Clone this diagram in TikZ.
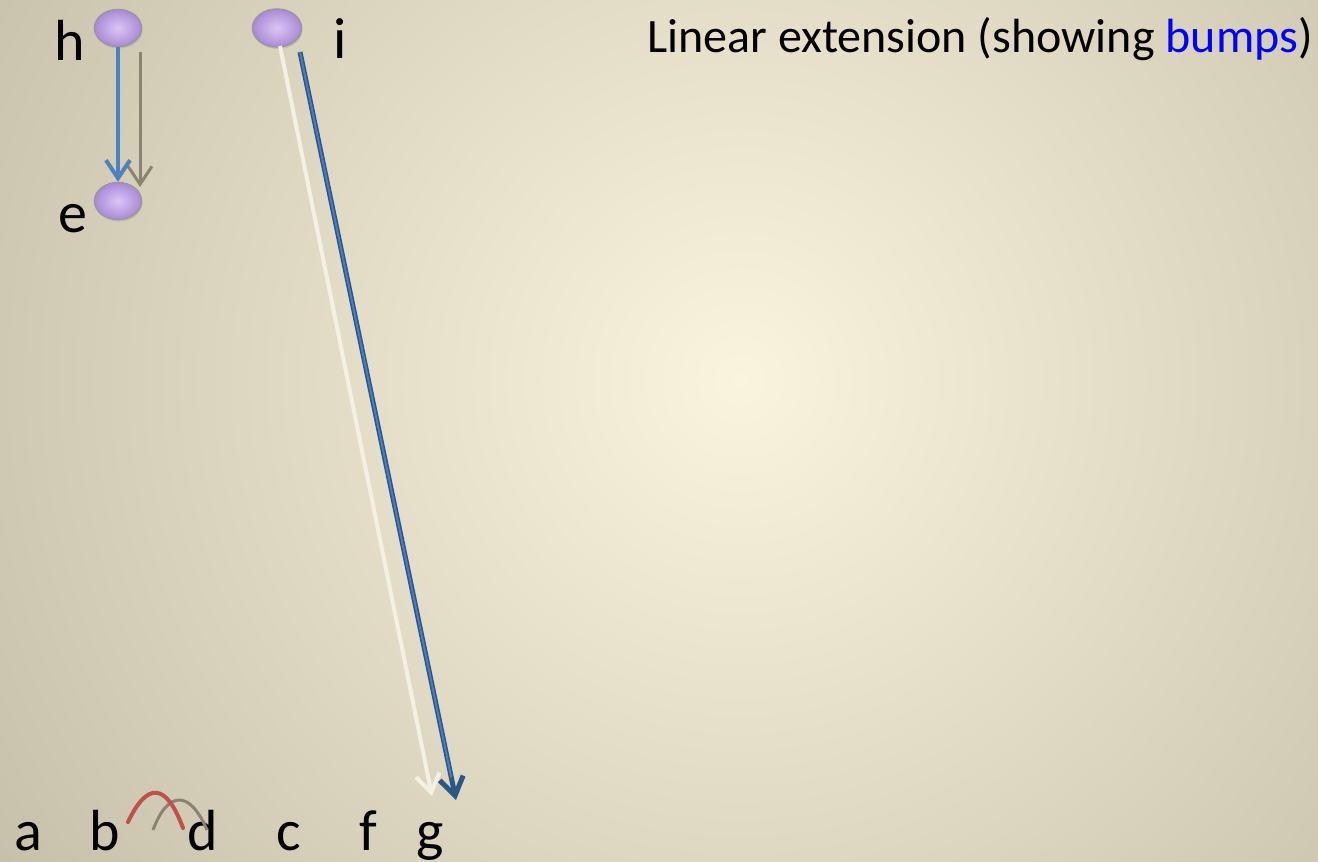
\documentclass[tikz,border=0pt]{standalone}
\usepackage{fontspec}
\setmainfont{Carlito}
\usetikzlibrary{arrows.meta,shapes.geometric,shadows,calc}
\definecolor{bgin}{HTML}{FAF3DE}
\definecolor{bgout}{HTML}{A39D88}
\definecolor{vin}{HTML}{DCC6F4}
\definecolor{vout}{HTML}{A98AD6}
\definecolor{vdraw}{HTML}{9C94A6}
\definecolor{eblue}{HTML}{4F81BD}
\definecolor{egrey}{HTML}{8A8372}
\definecolor{ewhite}{HTML}{F3F0E4}
\definecolor{edark}{HTML}{2D5688}
\definecolor{edarkin}{HTML}{4A7CC0}
\definecolor{ered}{HTML}{C0504D}
\definecolor{tblue}{HTML}{0000FF}
\tikzset{
  vert/.style={ellipse, minimum width=47pt, minimum height=37pt, inner sep=0pt,
    inner color=vin, outer color=vout, draw=vdraw, line width=1.5pt,
    drop shadow={opacity=0.25, shadow xshift=1pt, shadow yshift=-2pt}},
  lab/.style={anchor=base, font=\fontsize{58}{60}\selectfont, inner sep=0pt},
  tip/.style={-{Straight Barb[length=18pt,width=24pt]}},
  ebluestyle/.style={tip, draw=eblue, line width=4pt},
  egreystyle/.style={tip, draw=egrey, line width=3pt},
  ewhitestyle/.style={tip, draw=ewhite, line width=4pt},
  edarkstyle/.style={tip, draw=edark, line width=5pt},
  edarkinner/.style={draw=edarkin, line width=2pt},
  bump/.style={draw=ered, line width=4pt, line cap=round},
  greybump/.style={draw=egrey, line width=3pt}
}
\begin{document}
\begin{tikzpicture}[x=1pt,y=-1pt]
\useasboundingbox (0,0) rectangle (1318,862);
\begin{scope}
\clip (0,0) rectangle (1318,862);
\shade[inner color=bgin, outer color=bgout] (740,380) circle (1500);
\end{scope}
% vertices
\node[vert] (h) at (118,28) {};
\node[vert] (e) at (118,201) {};
\node[vert, minimum width=49pt, minimum height=38pt] (i) at (277,28) {};
% labels
\node[lab] (lh) at (70,60) {h};
\node[lab] (le) at (73,232) {e};
\node[lab] (li) at (340,58) {i};
\node[lab] (la) at (28,850) {a};
\node[lab] (lb) at (105,850) {b};
\node[lab] (ld) at (203,850) {d};
\node[lab] (lc) at (289,850) {c};
\node[lab] (lf) at (368,850) {f};
\node[lab] (lg) at (430,850) {g};
\node[anchor=base west, inner sep=0pt, font=\fontsize{48}{50}\selectfont] (title) at (647,52)
  {Linear extension (showing \textcolor{tblue}{bumps})};
% connector coordinates
\coordinate (g1) at (140,52);
\coordinate (g2) at (140,187);
\coordinate (w1) at (280,46);
\coordinate (w2) at (432,796);
\coordinate (d1) at (300,52);
\coordinate (d2) at (456,800);
\coordinate (r1) at (128,822);
\coordinate (r2) at (183,828);
\coordinate (s1) at (153,830);
\coordinate (s2) at (207,830);
% connectors
\draw[egreystyle] (g1) -- (g2);
\draw[ebluestyle] (h.south) -- (e.north);
\draw[ewhitestyle] (w1) -- (w2);
\draw[edarkstyle] (d1) -- (d2);
\draw[edarkinner] (d1) -- ($(d1)!0.97!(d2)$);
\draw[greybump] (s1) .. controls (168,790) and (190,790) .. (s2);
\draw[bump] (r1) .. controls (147,782) and (166,782) .. (r2);
\end{tikzpicture}
\end{document}
